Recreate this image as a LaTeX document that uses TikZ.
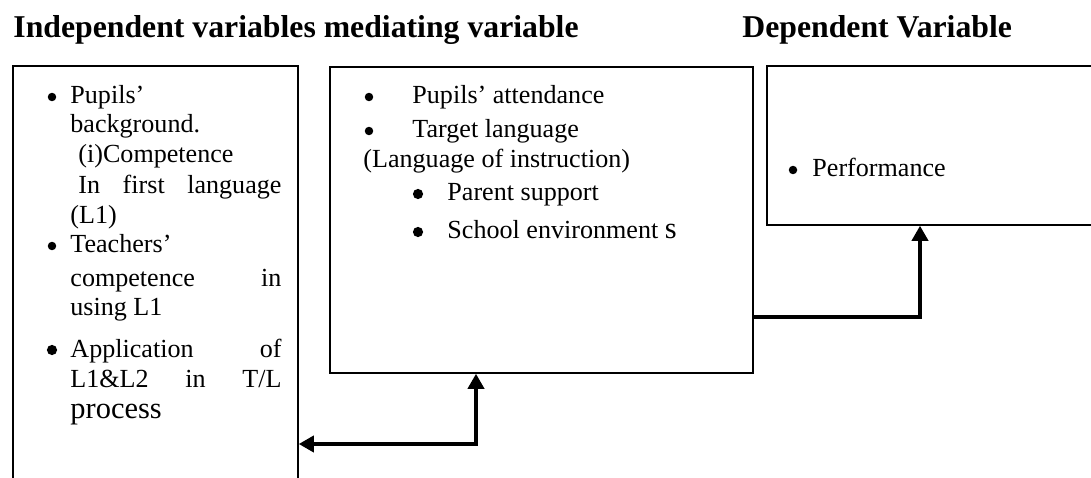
\documentclass[tikz,border=0pt]{standalone}
\usepackage{fontspec}
\setmainfont{Liberation Serif}
\usetikzlibrary{arrows.meta,fit}
\begin{document}
\begin{tikzpicture}[x=0.46pt,y=-0.46pt,
  >={Triangle[length=7pt,width=7.4pt]},
  box/.style={draw, line width=0.65pt, inner sep=0pt},
  txt/.style={anchor=base west, inner sep=0pt, font=\fontsize{12}{13.8}\selectfont},
  bul/.style={circle, fill, inner sep=0pt, minimum size=3.9pt},
  bigbul/.style={circle, fill, inner sep=0pt, minimum size=4.7pt},
  head/.style={anchor=base west, inner sep=0pt, font=\fontsize{14.6}{16}\selectfont\bfseries},
  conn/.style={line width=1.8pt, line join=miter}
]
\useasboundingbox (0,0) rectangle (1091,478);

% titles
\node[head] (t1) at (13,38) {Independent variables mediating variable};
\node[head] (t2) at (742,38) {Dependent Variable};

% boxes
\node[box, fit={(13,66) (298,540)}] (lft) {};
\node[box, fit={(330,67) (753,373)}] (mid) {};
\node[box, fit={(767,66) (1120,225)}] (rgt) {};

% left box text
\node[bul] (lb1) at (52,97) {};
\node[txt] (l1) at (70,104) {Pupils’};
\node[txt] (l2) at (70,133) {background.};
\node[txt] (l3) at (78,163) {(i)Competence};
\node[txt] (l4) at (78,194) {\makebox[93.4pt][s]{In\hfill first\hfill language}};
\node[txt] (l5) at (70,223) {(L1)};
\node[bul] (lb2) at (52,246) {};
\node[txt] (l6) at (70,253) {Teachers’};
\node[txt] (l7) at (70,286) {\makebox[97.1pt][s]{competence\hfill in}};
\node[txt] (l8) at (70,315) {using L1};
\node[bigbul] (lb3) at (52,350) {};
\node[txt] (l9) at (70,357) {\makebox[97.1pt][s]{Application\hfill of}};
\node[txt] (l10) at (70,387) {\makebox[97.1pt][s]{L1\&L2\hfill in\hfill T/L}};
\node[txt, font=\fontsize{14}{16}\selectfont] (l11) at (70,418) {process};

% middle box text
\node[bul] (mb1) at (369,97) {};
\node[txt] (m1) at (412,104) {Pupils’ attendance};
\node[bul] (mb2) at (369,131) {};
\node[txt] (m2) at (412,138) {Target language};
\node[txt] (m3) at (363,168) {(Language of instruction)};
\node[bigbul] (mb3) at (418,194) {};
\node[txt] (m4) at (447,201) {Parent support};
\node[bigbul] (mb4) at (418,232) {};
\node[txt] (m5) at (447,239) {School environment {\fontsize{14}{16}\selectfont s}};

% right box text
\node[bul] (rb1) at (793,170) {};
\node[txt] (r1) at (812,177) {Performance};

% connectors
\coordinate (c1) at (920,317);
\coordinate (c2) at (476,444);
\draw[conn,->] (mid.east |- c1) -| (rgt.south -| c1);
\draw[conn,<->] (lft.east |- c2) -| (mid.south -| c2);
\end{tikzpicture}
\end{document}
